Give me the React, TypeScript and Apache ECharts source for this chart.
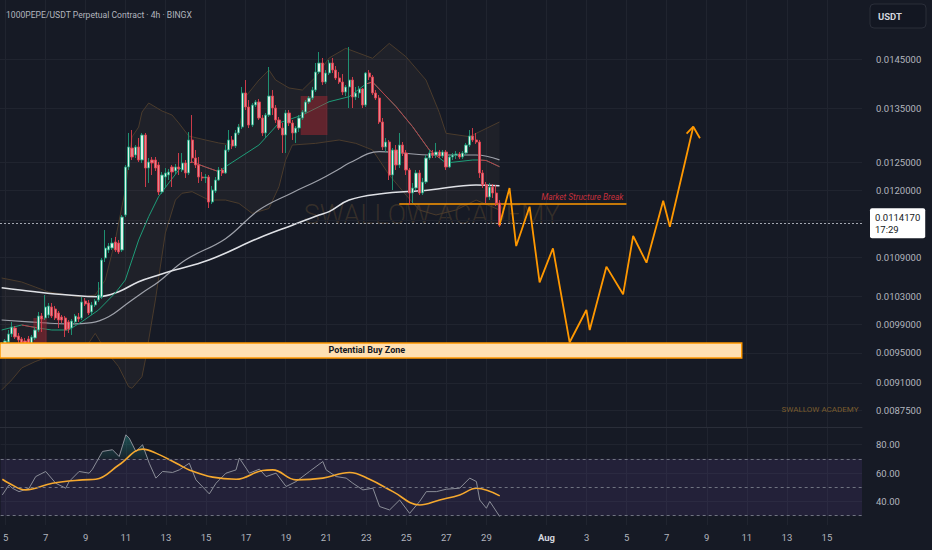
import React, { useEffect, useRef } from "react";
import * as echarts from "echarts";

// ---------- data ----------
const TITLE = "1000PEPE/USDT Perpetual Contract · 4h · BINGX";
const START_UTC = Date.UTC(2025, 6, 4, 20); // first 4h candle
const N_SLOTS = 258; // 4h slots visible on the time axis

const PRICE_LABELS = [0.0145, 0.0135, 0.0125, 0.012, 0.0109, 0.0103, 0.0099, 0.0095, 0.0091, 0.00875];
const PRICE_GRID = [0.0145, 0.0135, 0.0125, 0.012, 0.0115, 0.0109, 0.0103, 0.0099, 0.0095, 0.0091, 0.00875];
const RSI_TICKS = [40, 60, 80];
const PRICE_MIN = 0.008539;
const PRICE_MAX = 0.015785;
const RSI_MIN = 23.4;
const RSI_MAX = 91.7;

// [open, close, low, high]
const CANDLES = [
  [0.009539, 0.009622, 0.009444, 0.00965], [0.009595, 0.009664, 0.009526, 0.009692],
  [0.00965, 0.009762, 0.009595, 0.009818], [0.009762, 0.00986, 0.00972, 0.009932],
  [0.009846, 0.00972, 0.009692, 0.009875], [0.009734, 0.009678, 0.009636, 0.009776],
  [0.009692, 0.009636, 0.009512, 0.00972], [0.009664, 0.009622, 0.009567, 0.009706],
  [0.009692, 0.009608, 0.009581, 0.009734], [0.009595, 0.00972, 0.009553, 0.009748],
  [0.009706, 0.009818, 0.009678, 0.00986], [0.009818, 0.010018, 0.00979, 0.010076],
  [0.010018, 0.009975, 0.00979, 0.010061], [0.009989, 0.010149, 0.00996, 0.010325],
  [0.010032, 0.010163, 0.009989, 0.010207], [0.010149, 0.010018, 0.009989, 0.010207],
  [0.010119, 0.009989, 0.00996, 0.010163], [0.010061, 0.00996, 0.009846, 0.01009],
  [0.010003, 0.00996, 0.009917, 0.010032], [0.009989, 0.009818, 0.00972, 0.010018],
  [0.009932, 0.009832, 0.009776, 0.00996], [0.009846, 0.009946, 0.009748, 0.009975],
  [0.009932, 0.010018, 0.009903, 0.010047], [0.010003, 0.009975, 0.009932, 0.010061],
  [0.009989, 0.010222, 0.00996, 0.010296], [0.010236, 0.010192, 0.010163, 0.010281],
  [0.010207, 0.010061, 0.010032, 0.010251], [0.010076, 0.010178, 0.010032, 0.010222],
  [0.010178, 0.010236, 0.010149, 0.010266], [0.010251, 0.010325, 0.010222, 0.01052],
  [0.010296, 0.010858, 0.010266, 0.01089], [0.01089, 0.011047, 0.010827, 0.011337],
  [0.011016, 0.011079, 0.010969, 0.011127], [0.011047, 0.011127, 0.011016, 0.011208],
  [0.011143, 0.011016, 0.010984, 0.011224], [0.011127, 0.010984, 0.010953, 0.011175],
  [0.011016, 0.011551, 0.010984, 0.011585], [0.011585, 0.012413, 0.011551, 0.012449],
  [0.012413, 0.012776, 0.01236, 0.013036], [0.012757, 0.012593, 0.012539, 0.013092],
  [0.012629, 0.012776, 0.012575, 0.012812], [0.012776, 0.012539, 0.012503, 0.012942],
  [0.012539, 0.012998, 0.012485, 0.013036], [0.012998, 0.012395, 0.012061, 0.013036],
  [0.012395, 0.012503, 0.012131, 0.012575], [0.012539, 0.012485, 0.012271, 0.012593],
  [0.012539, 0.012395, 0.012342, 0.012593], [0.012449, 0.011975, 0.011923, 0.012503],
  [0.011975, 0.012271, 0.01194, 0.012324], [0.012236, 0.012307, 0.012044, 0.012395],
  [0.012271, 0.012324, 0.012183, 0.012378], [0.012413, 0.012324, 0.012061, 0.012449],
  [0.012342, 0.012413, 0.012289, 0.012467], [0.012413, 0.012378, 0.012271, 0.012666],
  [0.01236, 0.012485, 0.012324, 0.012666], [0.012485, 0.012307, 0.012219, 0.012539],
  [0.012307, 0.012905, 0.012271, 0.013054], [0.012905, 0.012575, 0.012485, 0.013377],
  [0.012575, 0.012449, 0.012395, 0.012721], [0.012449, 0.012236, 0.012131, 0.012593],
  [0.012236, 0.012219, 0.012166, 0.012324], [0.012219, 0.012236, 0.012131, 0.012289],
  [0.012236, 0.011803, 0.011702, 0.012271], [0.011803, 0.012009, 0.011769, 0.012079],
  [0.011992, 0.012183, 0.011957, 0.012236], [0.012183, 0.01236, 0.012166, 0.012413],
  [0.01236, 0.012307, 0.012254, 0.012395], [0.012307, 0.012721, 0.012289, 0.012812],
  [0.012721, 0.012905, 0.012684, 0.013092], [0.012905, 0.012794, 0.012739, 0.012979],
  [0.012794, 0.013036, 0.012757, 0.013092], [0.013036, 0.013148, 0.012998, 0.013206],
  [0.013148, 0.013808, 0.013111, 0.013928], [0.013808, 0.013532, 0.013474, 0.014068],
  [0.013532, 0.013186, 0.013129, 0.013669], [0.013186, 0.013571, 0.013148, 0.01361],
  [0.013571, 0.01363, 0.013532, 0.013669], [0.01363, 0.01332, 0.013282, 0.013689],
  [0.01332, 0.013036, 0.012979, 0.013377], [0.013036, 0.013377, 0.012942, 0.013416],
  [0.013377, 0.013748, 0.013339, 0.014334], [0.013748, 0.013513, 0.013377, 0.013867],
  [0.013513, 0.013282, 0.013225, 0.013571], [0.013282, 0.013129, 0.013092, 0.013339],
  [0.013129, 0.012998, 0.012666, 0.013225], [0.012998, 0.013416, 0.012666, 0.013474],
  [0.013416, 0.013225, 0.013167, 0.013474], [0.013225, 0.013036, 0.012905, 0.013282],
  [0.013036, 0.013129, 0.01285, 0.013167], [0.013129, 0.01332, 0.013054, 0.013377],
  [0.01332, 0.013435, 0.013282, 0.013474], [0.013435, 0.01363, 0.013397, 0.013669],
  [0.01363, 0.013709, 0.013591, 0.013748], [0.013709, 0.013867, 0.013669, 0.013928],
  [0.013867, 0.014231, 0.013827, 0.014417], [0.014231, 0.014417, 0.01419, 0.014647],
  [0.014417, 0.014028, 0.013968, 0.014521], [0.014028, 0.014211, 0.013988, 0.014272],
  [0.014211, 0.014417, 0.01417, 0.014479], [0.014417, 0.014272, 0.014211, 0.014521],
  [0.014272, 0.014109, 0.014068, 0.014354], [0.014109, 0.014028, 0.013988, 0.014231],
  [0.014028, 0.013827, 0.013768, 0.01419], [0.013827, 0.013928, 0.013748, 0.013968],
  [0.013928, 0.014068, 0.013513, 0.014753], [0.014068, 0.013729, 0.013513, 0.01413],
  [0.013729, 0.013808, 0.013669, 0.013928], [0.013808, 0.013888, 0.013709, 0.013948],
  [0.013888, 0.013571, 0.013513, 0.013908], [0.013571, 0.014211, 0.013532, 0.014231],
  [0.014211, 0.01413, 0.014068, 0.014272], [0.01413, 0.013808, 0.013768, 0.01417],
  [0.013808, 0.013709, 0.013669, 0.013867], [0.013709, 0.013244, 0.013206, 0.013768],
  [0.013244, 0.012776, 0.012721, 0.01332], [0.012776, 0.012868, 0.012684, 0.012942],
  [0.012868, 0.012271, 0.012183, 0.012905], [0.012271, 0.012721, 0.012009, 0.012757],
  [0.012721, 0.012449, 0.01236, 0.012812], [0.012449, 0.012812, 0.012395, 0.013036],
  [0.012812, 0.012666, 0.012611, 0.012868], [0.012666, 0.01236, 0.012271, 0.012721],
  [0.01236, 0.011957, 0.011753, 0.012395], [0.011957, 0.012044, 0.011786, 0.012131],
  [0.012044, 0.012307, 0.012009, 0.01236], [0.012307, 0.011957, 0.011923, 0.01236],
  [0.011957, 0.012148, 0.011923, 0.012219], [0.012148, 0.012575, 0.012113, 0.012629],
  [0.012575, 0.012666, 0.012539, 0.012721], [0.012666, 0.012629, 0.012575, 0.012721],
  [0.012629, 0.012684, 0.012575, 0.01285], [0.012684, 0.012611, 0.012575, 0.012721],
  [0.012611, 0.012684, 0.012575, 0.012721], [0.012684, 0.012413, 0.01236, 0.012721],
  [0.012413, 0.012593, 0.012395, 0.012629], [0.012593, 0.012629, 0.012539, 0.012666],
  [0.012629, 0.012648, 0.012557, 0.012702], [0.012648, 0.012593, 0.012557, 0.012684],
  [0.012593, 0.012666, 0.012557, 0.012702], [0.012666, 0.012812, 0.012629, 0.01285],
  [0.012812, 0.012979, 0.012776, 0.013092], [0.012979, 0.012905, 0.012868, 0.013129],
  [0.012905, 0.012868, 0.012831, 0.013036], [0.012868, 0.012307, 0.012219, 0.012905],
  [0.012307, 0.012096, 0.012044, 0.01236], [0.012096, 0.011889, 0.011786, 0.012148],
  [0.011889, 0.012061, 0.011837, 0.012131], [0.012061, 0.011957, 0.011872, 0.012113],
  [0.011957, 0.011786, 0.011736, 0.012096], [0.011786, 0.011417, 0.011386, 0.011837],
];

// [slot index, price]
const BB_UPPER = [[0, 0.010581], [6, 0.01052], [10, 0.010445], [14, 0.01037], [20, 0.010325], [24, 0.010296], [28, 0.010325], [31, 0.01055], [34, 0.011175], [37, 0.012009], [39, 0.012961], [41, 0.013148], [42, 0.013435], [44, 0.01361], [48, 0.013455], [51, 0.013377], [53, 0.013225], [56, 0.012979], [61, 0.012905], [65, 0.01285], [69, 0.012812], [71, 0.013092], [73, 0.013734], [77, 0.014068], [80, 0.014272], [82, 0.014068], [86, 0.013908], [90, 0.013867], [94, 0.01413], [98, 0.014521], [103, 0.014725], [111, 0.014515], [116, 0.014829], [121, 0.014548], [127, 0.014068], [131, 0.013423], [133, 0.01303], [140, 0.012967], [149, 0.013244]];
const BB_LOWER = [[0, 0.009006], [3, 0.009137], [6, 0.009296], [10, 0.009381], [14, 0.009448], [20, 0.009516], [26, 0.009632], [28, 0.009771], [31, 0.009539], [35, 0.009314], [38, 0.009049], [39, 0.009028], [42, 0.00918], [43, 0.009404], [45, 0.00996], [46, 0.010251], [49, 0.011289], [52, 0.011837], [54, 0.011953], [57, 0.01198], [62, 0.011837], [67, 0.011837], [71, 0.01178], [75, 0.011611], [80, 0.011694], [83, 0.012066], [85, 0.012539], [87, 0.012812], [94, 0.012843], [101, 0.012905], [106, 0.012843], [111, 0.012721], [116, 0.012271], [121, 0.011923], [125, 0.011668], [130, 0.011585], [136, 0.011668], [142, 0.011837], [149, 0.011668]];
const BB_BASIS = [[0, 0.009818], [6, 0.009889], [11, 0.009846], [15, 0.009818], [20, 0.009818], [24, 0.009936], [29, 0.010105], [34, 0.010355], [37, 0.01055], [41, 0.011175], [44, 0.011557], [47, 0.011899], [50, 0.012131], [53, 0.01236], [55, 0.012467], [57, 0.012503], [61, 0.012413], [65, 0.01233], [67, 0.012419], [77, 0.012812], [83, 0.013225], [90, 0.013377], [98, 0.013636], [104, 0.013735], [109, 0.013988], [111, 0.014028], [118, 0.013543], [123, 0.013154], [128, 0.012721], [131, 0.012575], [133, 0.012485], [141, 0.012539], [143, 0.012539], [145, 0.01253], [149, 0.012419]];
const BASIS_FALLING = [[6, 11], [55, 65], [109, 131], [143, 149]];
const EMA_FAST = [[0, 0.00996], [12, 0.009922], [20, 0.009903], [27, 0.009922], [32, 0.010007], [37, 0.010178], [42, 0.010355], [47, 0.010525], [55, 0.010858], [67, 0.011197], [77, 0.011668], [87, 0.011963], [95, 0.012183], [101, 0.012378], [104, 0.012485], [113, 0.01269], [120, 0.012666], [128, 0.012629], [142, 0.012629], [149, 0.01254]];
const EMA_SLOW = [[0, 0.010434], [10, 0.010374], [20, 0.010325], [29, 0.0103], [35, 0.010374], [41, 0.010525], [47, 0.010627], [50, 0.010677], [62, 0.010858], [77, 0.011208], [87, 0.011417], [95, 0.011585], [98, 0.011641], [104, 0.011837], [113, 0.01194], [128, 0.012009], [142, 0.012096], [149, 0.012084]];

const PROJECTION = [[149, 0.011417], [152, 0.012044], [154, 0.011079], [158, 0.011724], [161, 0.010515], [165, 0.011043], [170, 0.009646], [175, 0.010105], [176, 0.009818], [181, 0.010755], [186, 0.010335], [189, 0.01124], [193, 0.010816], [198, 0.011825], [200, 0.011391], [207, 0.013154]];
const ARROW_HEAD = [[205, 0.013024], [207, 0.013154], [209, 0.012937]];

const LAST_PRICE = 0.011417;
const COUNTDOWN = "17:29";
const MSB_PRICE = 0.011769;
const MSB_FROM = 119;
const MSB_TO = 187;
const BUY_ZONE = [0, 221, 0.009431, 0.009636]; // from, to, low, high
const RED_BOXES = [[10, 13, 0.009636, 0.009989], [90, 97, 0.012998, 0.013748]];

const RSI = [[0, 44.6], [2, 51.6], [3, 49.3], [5, 46.9], [8, 49.3], [10, 57.5], [13, 61.1], [16, 52.8], [19, 49.3], [20, 54], [23, 61.1], [26, 59.9], [27, 62.7], [30, 75.2], [33, 76.4], [35, 71.6], [37, 86.9], [38, 84.6], [40, 75.2], [42, 79.9], [44, 66.9], [46, 56.4], [48, 61.1], [51, 60.4], [53, 62.2], [56, 66.9], [58, 55.2], [62, 45.3], [64, 52.8], [67, 59.9], [70, 62.2], [71, 70.5], [74, 59.9], [77, 62.7], [79, 57.5], [82, 59.9], [85, 50.5], [88, 54], [92, 61.1], [96, 68.1], [97, 62.2], [100, 57.5], [103, 56.4], [105, 52.8], [108, 48.1], [111, 49.3], [113, 36.4], [116, 34], [119, 41], [122, 31.6], [125, 40], [127, 46.9], [130, 46.9], [133, 48.6], [137, 49.3], [140, 56.4], [142, 54], [143, 41], [145, 35.2], [146, 40], [149, 29.3]];
const RSI_MA = [[0, 55.6], [2, 52.8], [7, 48.1], [15, 52.8], [24, 55.2], [28, 55.6], [35, 65.8], [42, 76.8], [46, 74], [53, 65.8], [56, 62.2], [63, 57.1], [70, 55.6], [78, 61.8], [81, 62.2], [88, 55.2], [96, 56.4], [104, 60.4], [110, 55.6], [117, 46.9], [125, 37.5], [131, 41], [137, 44.6], [142, 49.3], [149, 43.9]];
const RSI_OVERBOUGHT = [[29, 70], [30, 75.2], [33, 76.4], [35, 71.6], [37, 86.9], [38, 84.6], [40, 75.2], [42, 79.9], [43, 73.4], [44, 70]];

// ---------- helpers ----------
const L = Math.log;
const pad = (n: number) => String(n).padStart(2, "0");
const CATEGORIES = Array.from({ length: N_SLOTS }, (_, i) => {
  const d = new Date(START_UTC + i * 4 * 3600 * 1000);
  return `${pad(d.getUTCMonth() + 1)}/${pad(d.getUTCDate())} ${pad(d.getUTCHours())}`;
});
const parseCat = (v: string) => ({ m: +v.slice(0, 2), d: +v.slice(3, 5), h: +v.slice(6, 8) });
const isTick = (_i: number, v: string) => {
  const { m, d, h } = parseCat(v);
  if (h !== 0) return false;
  if (m === 7) return d % 2 === 1 && d <= 29;
  if (m === 8) return d % 2 === 1;
  return false;
};
const tickText = (v: string) => {
  const { m, d } = parseCat(v);
  return m === 8 && d === 1 ? "{b|Aug}" : String(d);
};
const lnPts = (pts: number[][]) => pts.map(([i, p]) => [i, L(p)]);

const BG = "#161a25";
const GRID = "#20242f";
const TXT = "#b2b5be";
const FONT = "Roboto";

function buildOption() {
  const lineBase = { type: "line", symbol: "none", silent: true, xAxisIndex: 0, yAxisIndex: 0 };
  const fallingSeries = BASIS_FALLING.map(([a, b]) => ({
    ...lineBase,
    z: 4,
    data: lnPts(BB_BASIS.filter(([i]) => i >= a && i <= b)),
    lineStyle: { color: "#c23a47", width: 1 },
  }));

  return {
    animation: false,
    backgroundColor: BG,
    textStyle: { fontFamily: FONT },
    grid: [
      { left: 0, top: 0, width: 862, height: 427 },
      { left: 0, top: 428, width: 862, height: 97 },
    ],
    xAxis: [
      {
        type: "category", gridIndex: 0, data: CATEGORIES, boundaryGap: true,
        axisLine: { show: true, lineStyle: { color: "#2a2e39", width: 1 } },
        axisTick: { show: false }, axisLabel: { show: false },
        splitLine: { show: true, interval: isTick, alignWithLabel: true, lineStyle: { color: GRID, width: 1 } },
      },
      {
        type: "category", gridIndex: 1, data: CATEGORIES, boundaryGap: true,
        axisLine: { show: false }, axisTick: { show: false },
        axisLabel: {
          show: true, interval: isTick, formatter: tickText, color: TXT, fontSize: 9.5, margin: 7, fontFamily: FONT,
          rich: { b: { fontWeight: "bold", color: "#d1d4dc", fontSize: 9.5, fontFamily: FONT } },
        },
        splitLine: { show: true, interval: isTick, alignWithLabel: true, lineStyle: { color: GRID, width: 1 } },
      },
    ],
    yAxis: [
      {
        type: "value", gridIndex: 0, position: "right", min: L(PRICE_MIN), max: L(PRICE_MAX),
        axisLine: { show: false },
        axisTick: { show: false, customValues: PRICE_GRID.map(L) },
        axisLabel: {
          customValues: PRICE_LABELS.map(L), formatter: (v: number) => Math.exp(v).toFixed(7),
          color: TXT, fontSize: 9.5, margin: 14, fontFamily: FONT,
        },
        splitLine: { show: true, lineStyle: { color: GRID, width: 1 } },
      },
      {
        type: "value", gridIndex: 1, position: "right", min: RSI_MIN, max: RSI_MAX,
        axisLine: { show: false },
        axisTick: { show: false, customValues: RSI_TICKS },
        axisLabel: { customValues: RSI_TICKS, formatter: (v: number) => v.toFixed(2), color: TXT, fontSize: 9.5, margin: 14, fontFamily: FONT },
        splitLine: { show: true, lineStyle: { color: GRID, width: 1 } },
      },
    ],
    series: [
      {
        type: "custom", xAxisIndex: 0, yAxisIndex: 0, z: 1, silent: true,
        data: [[0, L(BB_UPPER[0][1])]],
        renderItem: (_p: any, api: any) => {
          const pts = BB_UPPER.map(([i, p]) => api.coord([i, L(p)])).concat(
            BB_LOWER.slice().reverse().map(([i, p]) => api.coord([i, L(p)]))
          );
          return { type: "polygon", shape: { points: pts }, style: { fill: "rgba(190,160,120,0.06)" } };
        },
      },
      { ...lineBase, z: 2, data: lnPts(BB_UPPER), lineStyle: { color: "#4a3b2c", width: 1 } },
      { ...lineBase, z: 2, data: lnPts(BB_LOWER), lineStyle: { color: "#4a3b2c", width: 1 } },
      { ...lineBase, z: 3, smooth: 0.4, data: lnPts(EMA_FAST), lineStyle: { color: "#9ea1aa", width: 1.2 } },
      { ...lineBase, z: 3, smooth: 0.4, data: lnPts(EMA_SLOW), lineStyle: { color: "#dfe1e6", width: 1.6 } },
      { ...lineBase, z: 3, data: lnPts(BB_BASIS), lineStyle: { color: "#1e9c78", width: 1 } },
      ...fallingSeries,
      {
        type: "custom", xAxisIndex: 0, yAxisIndex: 0, z: 4, silent: true,
        encode: { x: [0, 2], y: [1, 3] },
        data: RED_BOXES.map(([a, b, lo, hi]) => [a, L(hi), b, L(lo)]),
        renderItem: (_p: any, api: any) => {
          const p1 = api.coord([api.value(0), api.value(1)]);
          const p2 = api.coord([api.value(2), api.value(3)]);
          const hw = api.size([1, 0])[0] / 2;
          return {
            type: "rect",
            shape: { x: p1[0] - hw, y: p1[1], width: p2[0] - p1[0] + 2 * hw, height: p2[1] - p1[1] },
            style: { fill: "rgba(178,40,51,0.45)" },
          };
        },
      },
      {
        type: "candlestick", xAxisIndex: 0, yAxisIndex: 0, z: 5, barWidth: "80%",
        data: CANDLES.map((c) => c.map(L)),
        itemStyle: { color: "#dcf3ea", color0: "#e5838d", borderColor: "#1f9d7a", borderColor0: "#e0404e", borderWidth: 0.9 },
        markLine: {
          silent: true, symbol: ["none", "none"], animation: false,
          data: [
            {
              yAxis: L(LAST_PRICE),
              lineStyle: { type: [2, 2], color: "#a3a7b1", width: 1 },
              label: {
                show: true, position: "end", distance: 8, formatter: `${LAST_PRICE.toFixed(7)}\n${COUNTDOWN}`,
                backgroundColor: "#ffffff", color: "#131722", padding: [3, 5, 3, 5], fontSize: 9.5,
                lineHeight: 12, fontFamily: FONT, borderRadius: 2, align: "left",
              },
            },
            [
              {
                coord: [MSB_FROM, L(MSB_PRICE)],
                lineStyle: { type: "solid", color: "#ff9800", width: 1.5 },
                label: {
                  show: true, position: "insideEndTop", formatter: "Market Structure Break",
                  color: "#c8303c", fontStyle: "italic", fontSize: 8.3, fontFamily: FONT, distance: 3,
                },
              },
              { coord: [MSB_TO, L(MSB_PRICE)] },
            ],
          ],
        },
      },
      {
        type: "custom", xAxisIndex: 0, yAxisIndex: 0, z: 6, silent: true,
        encode: { x: [0, 2], y: [1, 3] },
        data: [[BUY_ZONE[0], L(BUY_ZONE[3]), BUY_ZONE[1], L(BUY_ZONE[2])]],
        renderItem: (_p: any, api: any) => {
          const p1 = api.coord([api.value(0), api.value(1)]);
          const p2 = api.coord([api.value(2), api.value(3)]);
          const hw = api.size([1, 0])[0] / 2;
          const x = p1[0] - hw;
          const w = p2[0] - p1[0] + 2 * hw;
          return {
            type: "group",
            children: [
              { type: "rect", shape: { x, y: p1[1], width: w, height: p2[1] - p1[1] }, style: { fill: "#ffe0b2", stroke: "#ff9800", lineWidth: 1.5 } },
              {
                type: "text", x: x + w / 2 - 4, y: (p1[1] + p2[1]) / 2,
                style: { text: "Potential Buy Zone", fill: "#131722", fontSize: 9, fontWeight: "bold", fontFamily: FONT, align: "center", verticalAlign: "middle" },
              },
            ],
          };
        },
      },
      { ...lineBase, z: 7, data: lnPts(PROJECTION), lineStyle: { color: "#ff9800", width: 1.8 } },
      { ...lineBase, z: 7, data: lnPts(ARROW_HEAD), lineStyle: { color: "#ff9800", width: 1.8 } },
      // RSI pane
      {
        type: "line", xAxisIndex: 1, yAxisIndex: 1, symbol: "none", silent: true, z: 2,
        data: RSI_OVERBOUGHT, lineStyle: { width: 0 },
        areaStyle: {
          origin: 70,
          color: new echarts.graphic.LinearGradient(0, 0, 0, 1, [
            { offset: 0, color: "rgba(38,166,154,0.55)" },
            { offset: 1, color: "rgba(38,166,154,0.1)" },
          ]),
        },
      },
      {
        type: "line", xAxisIndex: 1, yAxisIndex: 1, symbol: "none", silent: true, z: 3,
        data: RSI, lineStyle: { color: "#8b8e98", width: 1 },
        markArea: { silent: true, itemStyle: { color: "rgba(126,87,194,0.13)" }, data: [[{ yAxis: 30 }, { yAxis: 70 }]] },
        markLine: {
          silent: true, symbol: ["none", "none"], label: { show: false },
          lineStyle: { type: [3, 3], color: "#6f7380", width: 1 },
          data: [{ yAxis: 70 }, { yAxis: 50 }, { yAxis: 30 }],
        },
      },
      {
        type: "line", xAxisIndex: 1, yAxisIndex: 1, symbol: "none", silent: true, z: 4, smooth: 0.4,
        data: RSI_MA, lineStyle: { color: "#f5a82e", width: 1.6 },
      },
    ],
    graphic: [
      {
        type: "text", x: 432, y: 215, z: 0, silent: true,
        style: { text: "SWALLOW ACADEMY", fill: "rgba(170,125,60,0.22)", fontSize: 27, fontWeight: 300, fontFamily: FONT, align: "center", verticalAlign: "middle" },
      },
      {
        type: "text", x: 820, y: 409, z: 10, silent: true,
        style: { text: "SWALLOW ACADEMY", fill: "#7a5c2e", fontSize: 8, fontFamily: FONT, align: "center", verticalAlign: "middle" },
      },
      {
        type: "text", x: 6, y: 15, z: 10, silent: true,
        style: { text: TITLE, fill: TXT, fontSize: 8.6, fontFamily: FONT, align: "left", verticalAlign: "middle" },
      },
      {
        type: "rect", x: 870, y: 4, z: 10, silent: true,
        shape: { width: 56, height: 24, r: 4 },
        style: { fill: "#131722", stroke: "#2a2e39", lineWidth: 1 },
      },
      {
        type: "text", x: 878, y: 16, z: 11, silent: true,
        style: { text: "USDT", fill: "#d1d4dc", fontSize: 9.5, fontWeight: "bold", fontFamily: FONT, align: "left", verticalAlign: "middle" },
      },
    ],
  };
}

export default function App() {
  const ref = useRef<HTMLDivElement>(null);
  useEffect(() => {
    if (!ref.current) return;
    const chart = echarts.init(ref.current, null, { renderer: "svg" });
    chart.setOption(buildOption() as any);
    return () => chart.dispose();
  }, []);
  return (
    <div
      ref={ref}
      style={{ position: "absolute", left: 0, top: 0, width: 932, height: 550, background: BG }}
    />
  );
}
